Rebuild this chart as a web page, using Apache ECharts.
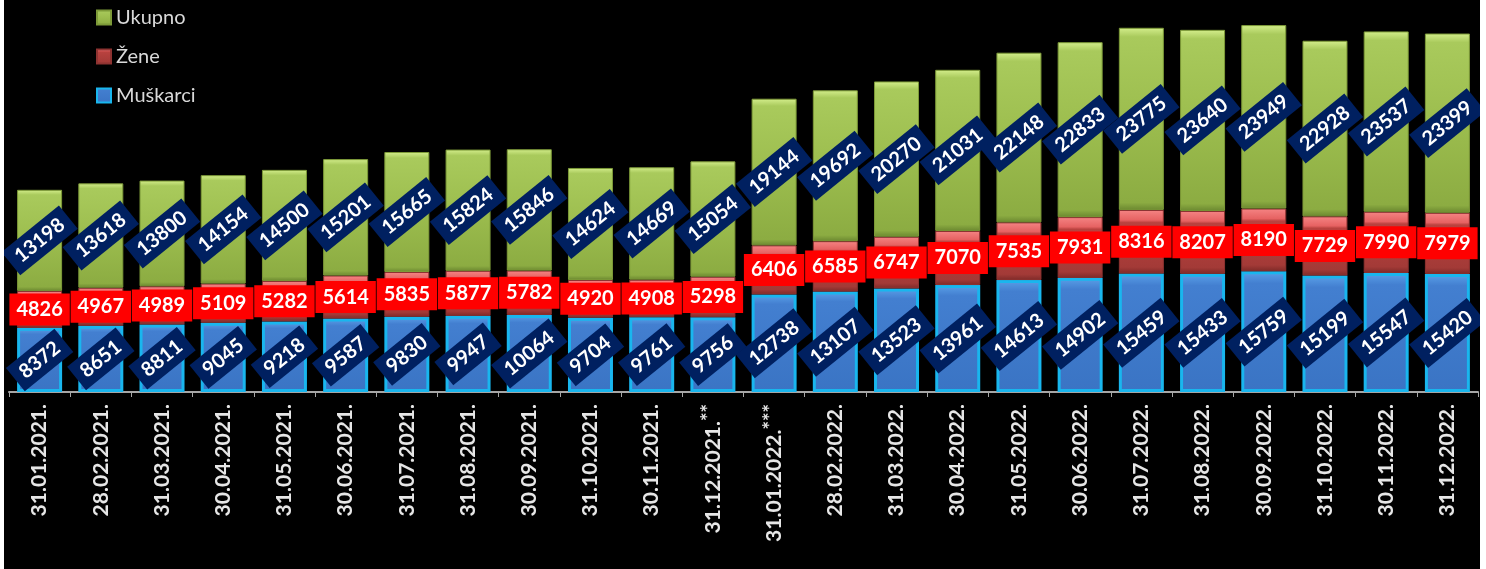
<!DOCTYPE html>
<html>
<head>
<meta charset="utf-8">
<script src="https://cdn.jsdelivr.net/npm/echarts@6/dist/echarts.min.js"></script>
<style>
  html,body{margin:0;padding:0;background:#ffffff;}
  #chart{position:absolute;left:4px;top:0;width:1476px;height:569px;background:#000000;}
</style>
</head>
<body>
<div id="chart"></div>
<script>
const categories = ['31.01.2021.','28.02.2021.','31.03.2021.','30.04.2021.','31.05.2021.','30.06.2021.','31.07.2021.','31.08.2021.','30.09.2021.','31.10.2021.','30.11.2021.','31.12.2021.**','31.01.2022.***','28.02.2022.','31.03.2022.','30.04.2022.','31.05.2022.','30.06.2022.','31.07.2022.','31.08.2022.','30.09.2022.','31.10.2022.','30.11.2022.','31.12.2022.'];
const muskarci = [8372,8651,8811,9045,9218,9587,9830,9947,10064,9704,9761,9756,12738,13107,13523,13961,14613,14902,15459,15433,15759,15199,15547,15420];
const zene = [4826,4967,4989,5109,5282,5614,5835,5877,5782,4920,4908,5298,6406,6585,6747,7070,7535,7931,8316,8207,8190,7729,7990,7979];
const ukupno = [13198,13618,13800,14154,14500,15201,15665,15824,15846,14624,14669,15054,19144,19692,20270,21031,22148,22833,23775,23640,23949,22928,23537,23399];

const FONT = 'Lato, "Open Sans", sans-serif';
const grad = (stops) => ({type:'linear',x:0,y:0,x2:0,y2:1,colorStops:stops.map(s=>({offset:s[0],color:s[1]}))});

const navyLabel = {
  show:true, position:'inside', rotate:39,
  color:'#ffffff', fontFamily:FONT, fontWeight:'bold', fontSize:20,
  backgroundColor:'#002060', padding:[5,8]
};

const chart = echarts.init(document.getElementById('chart'));
chart.setOption({
  backgroundColor:'#000000',
  animation:false,
  legend:{
    orient:'vertical', left:87, top:2,
    data:['Ukupno','Žene','Muškarci'],
    itemWidth:14, itemHeight:14, itemGap:18,
    icon:'rect',
    textStyle:{color:'#d9d9d9', fontFamily:FONT, fontSize:20, lineHeight:21}
  },
  grid:{left:5, right:2, top:9, bottom:177},
  xAxis:{
    type:'category', data:categories,
    axisLine:{lineStyle:{color:'#a6a6a6', width:2}},
    axisTick:{show:true, length:5, lineStyle:{color:'#a6a6a6', width:1}},
    axisLabel:{
      rotate:90, margin:12, interval:0,
      color:'#e6e6e6', fontFamily:FONT, fontWeight:'bold', fontSize:21, lineHeight:26,
      formatter:(v)=>{
        const m = v.match(/^(.*?)(\*+)$/);
        return m ? m[1] + '{s|' + m[2] + '}' : v;
      },
      rich:{s:{fontFamily:FONT, fontWeight:'bold', fontSize:20, color:'#e6e6e6', verticalAlign:'top', lineHeight:14}}
    }
  },
  yAxis:{type:'value', min:0, max:50000, show:false, splitLine:{show:false}},
  series:[
    {
      name:'Muškarci', type:'bar', stack:'total', barWidth:45, data:muskarci,
      itemStyle:{
        color:grad([[0,'#5aa0e8'],[0.1,'#437fd0'],[1,'#3a74c4']]),
        borderColor:'#19b6ee', borderWidth:3
      },
      label:navyLabel
    },
    {
      name:'Žene', type:'bar', stack:'total', data:zene,
      itemStyle:{
        color:grad([[0,'#f58484'],[0.16,'#e66262'],[0.2,'#b9423f'],[0.9,'#a33a37'],[1,'#7e2a28']]),
        borderColor:'#8e3331', borderWidth:1
      },
      label:{
        show:true, position:'inside',
        color:'#ffffff', fontFamily:FONT, fontWeight:'bold', fontSize:20,
        backgroundColor:'#ff0000', padding:[6,7]
      }
    },
    {
      name:'Ukupno', type:'bar', stack:'total', data:ukupno,
      itemStyle:{
        color:grad([[0,'#d4ee8c'],[0.05,'#a9ca5c'],[0.5,'#9cbd4e'],[0.96,'#8cac42'],[1,'#6b8830']]),
        borderColor:'#7d9a38', borderWidth:1
      },
      label:navyLabel
    }
  ]
});
</script>
</body>
</html>
